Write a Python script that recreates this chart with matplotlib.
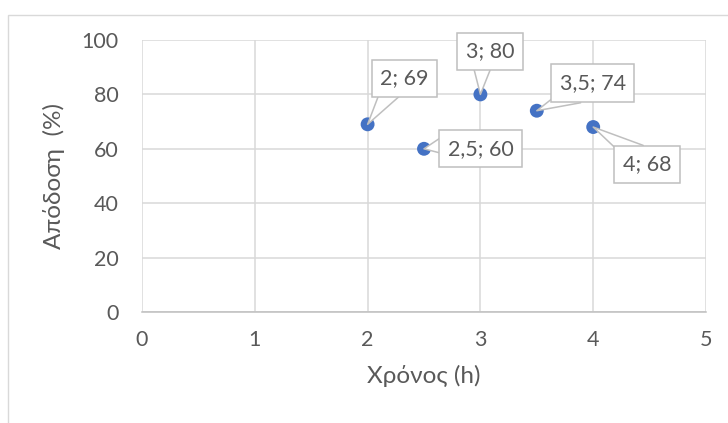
import matplotlib
matplotlib.use("Agg")
import matplotlib.pyplot as plt
from matplotlib.patches import Rectangle

# Data
time_h = [2, 2.5, 3, 3.5, 4]
yield_pct = [69, 60, 80, 74, 68]
x_ticks = [0, 1, 2, 3, 4, 5]
y_ticks = [0, 20, 40, 60, 80, 100]

# Label placement: offset (points) of the callout box and where its pointer attaches
label_offsets = [(26.6, 33), (40.7, 0), (6.8, 31), (40.3, 20), (38.9, -27)]
pointer_relpos = [(0.25, 0.0), (0.0, 0.7), (0.35, 0.0), (0.25, 0.0), (0.3, 1.0)]

TEXT = "#595959"
GRID = "#d9d9d9"
BLUE = "#4472C4"
plt.rcParams["font.family"] = ["Lato", "Open Sans", "DejaVu Sans"]

fig = plt.figure(figsize=(7.28, 4.23), dpi=100)
ax = fig.add_axes([142 / 728, 1 - 312 / 423, (706 - 142) / 728, (312 - 40) / 423])

# chart-area frame
fig.patches.append(Rectangle((8 / 728, -0.1), 1.2, 1 - 15 / 423 + 0.1,
                             transform=fig.transFigure, fill=False,
                             edgecolor=GRID, linewidth=1.0))

ax.set_xlim(0, 5)
ax.set_ylim(0, 100)
ax.set_xticks(x_ticks)
ax.set_yticks(y_ticks)
ax.grid(True, color=GRID, linewidth=1.1)
ax.set_axisbelow(True)
for side in ["left", "right", "top"]:
    ax.spines[side].set_visible(False)
ax.spines["bottom"].set_color("#bfbfbf")
ax.spines["bottom"].set_linewidth(1.1)
ax.tick_params(length=0, labelsize=15.5, colors=TEXT)
ax.tick_params(axis="y", pad=17)
ax.tick_params(axis="x", pad=13)

ax.scatter(time_h, yield_pct, s=100, color=BLUE, zorder=3, edgecolors="none")

def fmt(v):
    return f"{v:g}".replace(".", ",")

for x, y, off, rp in zip(time_h, yield_pct, label_offsets, pointer_relpos):
    ax.annotate(f"{fmt(x)}; {fmt(y)}", xy=(x, y), xytext=off,
                textcoords="offset points", ha="center", va="center",
                fontsize=15.5, color=TEXT, zorder=4,
                bbox=dict(boxstyle="square,pad=0.4", facecolor="white",
                          edgecolor="#bfbfbf", linewidth=1.1),
                arrowprops=dict(arrowstyle="wedge,tail_width=1.0,shrink_factor=0.5",
                                facecolor="white", edgecolor="#bfbfbf",
                                linewidth=1.1, relpos=rp, patchA=None,
                                shrinkA=0, shrinkB=0))

ax.set_xlabel("Χρόνος (h)", fontsize=17.5, color=TEXT, labelpad=11)
ax.set_ylabel("Απόδοση  (%)", fontsize=17.5, color=TEXT, labelpad=12)

fig.savefig("out.png", dpi=100)
